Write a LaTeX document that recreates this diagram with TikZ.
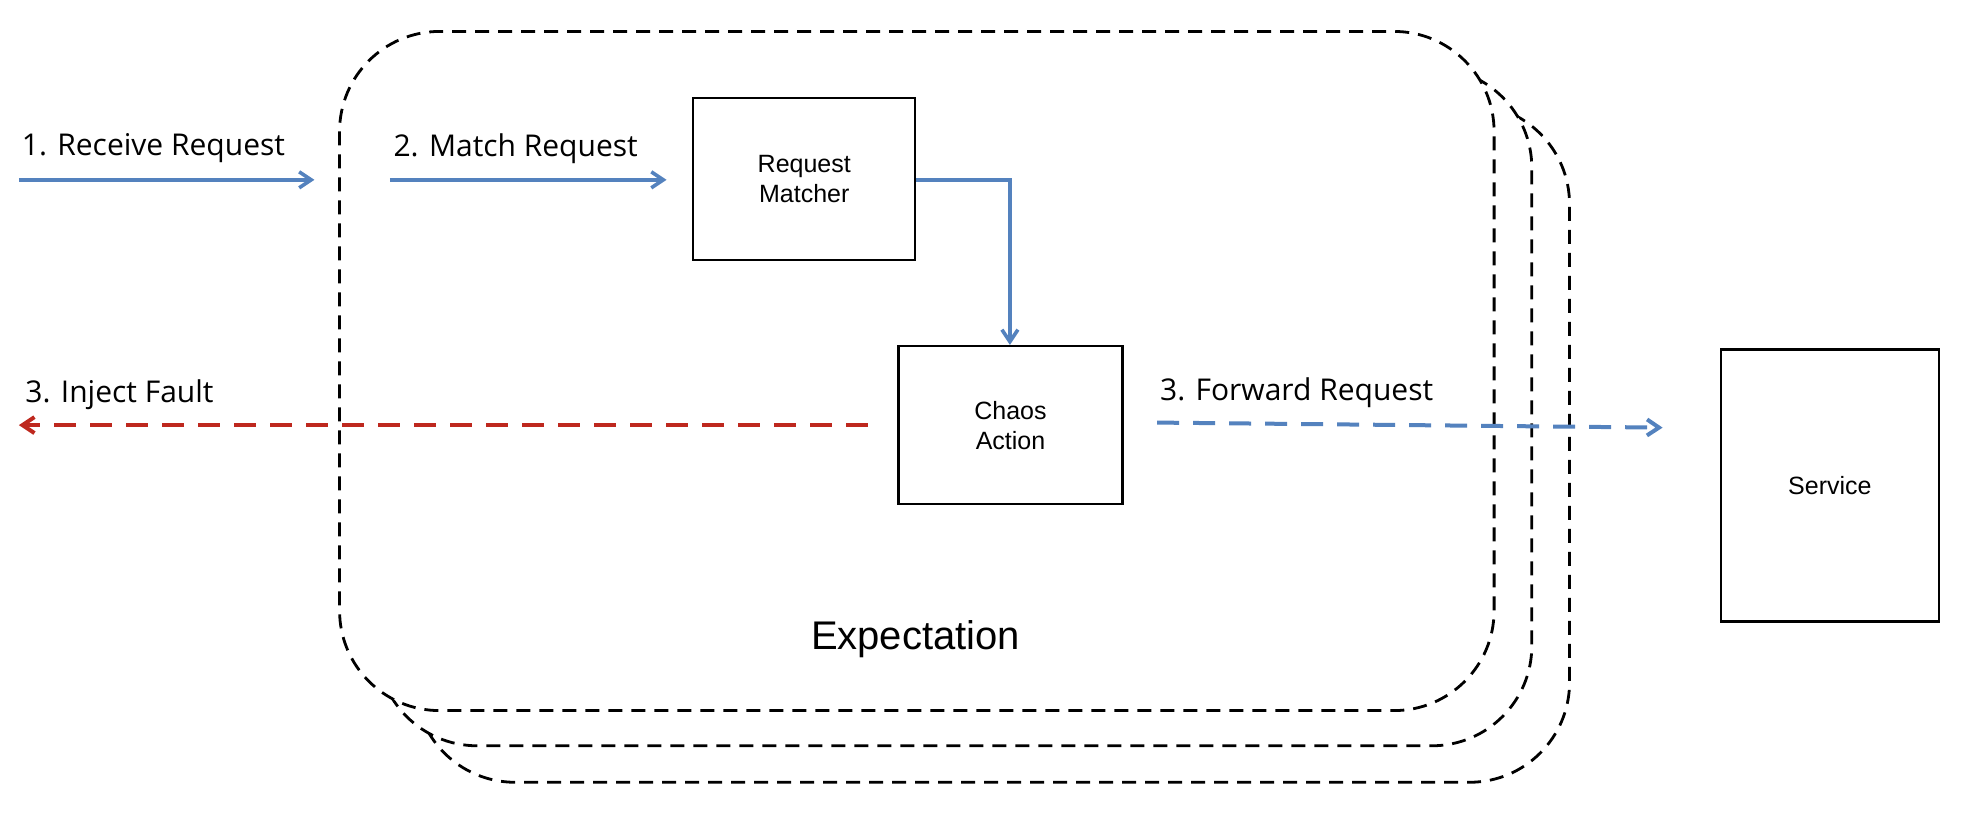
\documentclass[tikz,border=0pt]{standalone}
\usepackage{fontspec}
\setmainfont{Open Sans}
\newfontfamily\boxfont{Liberation Sans}
\usetikzlibrary{arrows.meta}
\definecolor{ablue}{RGB}{84,130,190}
\definecolor{ared}{RGB}{190,40,30}
\tikzset{
  exp/.style={draw=black,fill=white,line width=1.4pt,dash pattern=on 7pt off 4.5pt,rounded corners=50pt},
  boxn/.style={draw=black,line width=1.2pt,fill=white,font=\boxfont\fontsize{12.5}{15}\selectfont,align=center,inner sep=0pt},
  lab/.style={font=\fontsize{15}{18}\selectfont,anchor=center},
  barr/.style={draw=ablue,line width=1.8pt,-{Straight Barb[length=6pt,width=8pt]}},
  darr/.style={line width=2pt,dash pattern=on 11pt off 7pt,-{Straight Barb[length=6pt,width=8pt]}}
}
\begin{document}
\begin{tikzpicture}[x=0.62885pt,y=-0.62885pt]
\useasboundingbox (0,0) rectangle (1568,646);
\draw[exp] (330,83) rectangle (1248,622);
\draw[exp] (300,54) rectangle (1218,593);
\draw[exp] (270,25) rectangle (1188,565);
\node[boxn,minimum width=111pt,minimum height=81pt] (rm) at (639.5,142.5) {Request\\Matcher};
\node[boxn,minimum width=112pt,minimum height=79pt] (ca) at (803.5,338) {Chaos\\Action};
\node[boxn,minimum width=109pt,minimum height=136pt] (sv) at (1455,386) {Service};
\coordinate (r1a) at (15,143); \coordinate (r1b) at (250,143);
\coordinate (r2a) at (310,143); \coordinate (r2b) at (530,143);
\draw[barr] (r1a) -- (r1b);
\draw[barr] (r2a) -- (r2b);
\draw[barr] (rm.east |- 0,143) -| (ca.north -| 803,0);
\coordinate (ifa) at (690,338); \coordinate (ifb) at (15,338);
\draw[darr,draw=ared] (ifa) -- (ifb);
\coordinate (fra) at (920,336); \coordinate (frb) at (1322,340);
\draw[darr,draw=ablue] (fra) -- (frb);
\node[lab] (l1) at (122,118) {1. Receive Request};
\node[lab] (l2) at (410,118) {2. Match Request};
\node[lab] (l3) at (95,314) {3. Inject Fault};
\node[lab] (l4) at (1031,312) {3. Forward Request};
\node[font=\boxfont\fontsize{20}{24}\selectfont] (ex) at (728,508) {Expectation};
\end{tikzpicture}
\end{document}
